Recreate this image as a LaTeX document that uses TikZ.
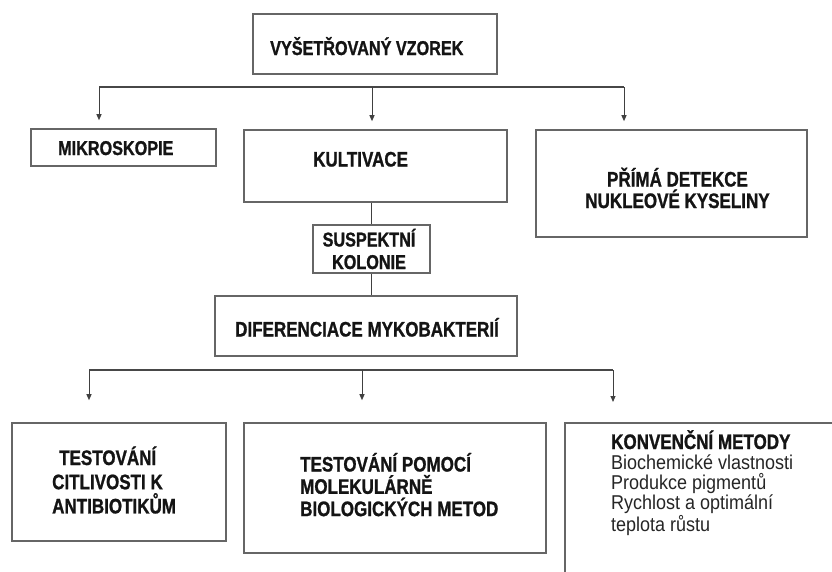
\documentclass[tikz,border=0pt]{standalone}
\usepackage{fontspec}
\setmainfont{Liberation Sans}
\newfontfamily\nar[FakeStretch=0.81, BoldFeatures={FakeBold=1.0}]{Liberation Sans}
\newfontfamily\nreg[FakeStretch=0.9]{Liberation Sans}
\usetikzlibrary{arrows.meta,shadows,calc}
\begin{document}
\begin{tikzpicture}[x=1pt,y=-1pt,
  box/.style={rectangle, draw=black!60, line width=1.6pt, fill=white, inner sep=0pt,
    drop shadow={shadow xshift=0.4pt, shadow yshift=-1.4pt, fill=black!50, opacity=0.7}},
  lbl/.style={inner sep=0pt, text=black!92, font=\nar\bfseries\fontsize{21}{22}\selectfont},
  smaller/.style={font=\nar\bfseries\fontsize{20}{22}\selectfont},
  conn/.style={draw=black!75, line width=1pt},
  arr/.style={conn, -{Triangle[length=6pt,width=5pt]}},
  bar/.style={draw=black!72, line width=2pt}
]
\useasboundingbox (0,0) rectangle (832,571);
\clip (0,0) rectangle (832,571);
\fill[white] (0,0) rectangle (832,571);

% boxes
\node[box, minimum width=244pt, minimum height=60pt] (top) at (375,44) {};
\node[box, minimum width=185pt, minimum height=37pt] (mikro) at (123.5,147.5) {};
\node[box, minimum width=263pt, minimum height=72pt] (kult) at (375.5,166) {};
\node[box, minimum width=271pt, minimum height=107pt] (prima) at (671.5,183.5) {};
\node[box, minimum width=117pt, minimum height=48pt] (susp) at (371.5,249) {};
\node[box, minimum width=302pt, minimum height=60pt] (dif) at (366,326) {};
\node[box, minimum width=214pt, minimum height=118pt] (test) at (119,482) {};
\node[box, minimum width=302pt, minimum height=130pt] (mol) at (395,488) {};
\node[box, minimum width=300pt, minimum height=200pt, anchor=north west] (konv) at (564,422) {};

% texts
\node[lbl, smaller, anchor=base west] (topT) at (270,55) {VYŠETŘOVANÝ VZOREK};
\node[lbl, smaller, anchor=base west] (mikroT) at (58,155) {MIKROSKOPIE};
\node[lbl, anchor=base west] (kultT) at (313,166.5) {KULTIVACE};
\node[lbl, anchor=base] (primaT) at (677.5,186.5)
  {\parbox[t]{240pt}{\centering\fontsize{21}{21.5}\selectfont PŘÍMÁ DETEKCE\\NUKLEOVÉ KYSELINY}};
\node[lbl, smaller, anchor=base] (suspT) at (369,246.5)
  {\parbox[t]{150pt}{\centering\fontsize{20}{22.5}\selectfont SUSPEKTNÍ\\KOLONIE}};
\node[lbl, anchor=base west] (difT) at (235,336.5) {DIFERENCIACE MYKOBAKTERIÍ};
\node[lbl, anchor=base west] (testT) at (52,465)
  {\parbox[t]{200pt}{\raggedright\fontsize{21}{24.2}\selectfont\hspace*{7pt}TESTOVÁNÍ\\CITLIVOSTI K\\ANTIBIOTIKŮM}};
\node[lbl, anchor=base west] (molT) at (300,471.5)
  {\parbox[t]{240pt}{\raggedright\fontsize{21}{22.3}\selectfont TESTOVÁNÍ POMOCÍ\\MOLEKULÁRNĚ\\BIOLOGICKÝCH METOD}};
\node[lbl, anchor=base west] (konvT) at (611,449)
  {\parbox[t]{220pt}{\raggedright KONVENČNÍ METODY\\
   {\nreg\mdseries\color{black!85}\fontsize{20}{20}\selectfont Biochemické vlastnosti\\
   Produkce pigmentů\\Rychlost a optimální\\teplota růstu}\par}};

% upper connectors
\coordinate (b1L) at (99,87);
\coordinate (b1M) at (372,87);
\coordinate (b1R) at (624,87);
\draw[bar] (b1L) -- (b1R);
\draw[arr] (b1L) -- ($(b1L |- mikro.north)+(0,-8)$);
\draw[arr] (b1M) -- ($(b1M |- kult.north)+(0,-8)$);
\draw[arr] (b1R) -- ($(b1R |- prima.north)+(0,-8)$);

% middle chain
\draw[conn] (susp.north |- kult.south) -- (susp.north);
\draw[conn] (susp.south) -- (susp.south |- dif.north);

% lower connectors
\coordinate (b2L) at (89,370);
\coordinate (b2M) at (362,370);
\coordinate (b2R) at (613,370);
\draw[bar, line width=1.5pt] (b2L) -- (b2R);
\draw[arr] (b2L) -- ($(b2L |- test.north)+(0,-22)$);
\draw[arr] (b2M) -- ($(b2M |- mol.north)+(0,-22)$);
\draw[arr] (b2R) -- ($(b2R |- konv.north)+(0,-20)$);
\end{tikzpicture}
\end{document}
